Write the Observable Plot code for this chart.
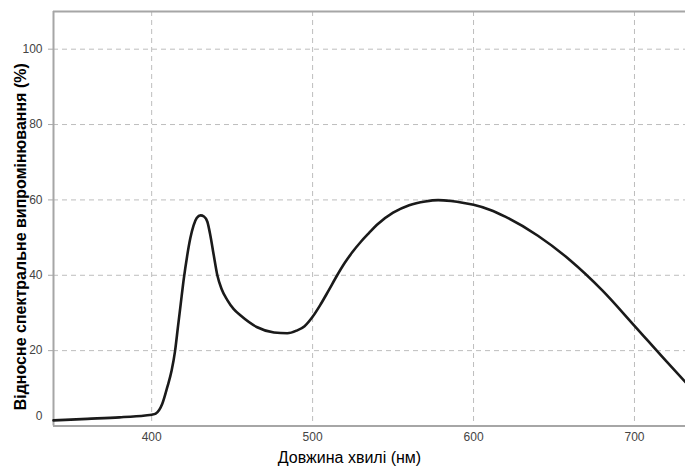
<!DOCTYPE html>
<html>
<head>
<meta charset="utf-8">
<script src="https://cdn.jsdelivr.net/npm/d3@7"></script>
<script src="https://cdn.jsdelivr.net/npm/@observablehq/plot@0.6"></script>
<style>
  html, body { margin: 0; padding: 0; background: #fff; }
  #chart { width: 685px; height: 470px; overflow: hidden; }
</style>
</head>
<body>
<div id="chart"></div>
<script>
const wavelength = [339, 360, 380, 396, 400, 402.5, 406.6, 409.7, 412.4, 414.5, 416.3, 418, 420, 422, 424, 426, 428, 430.4, 432.5, 434.6, 436.5, 438.5, 440.8, 443.5, 447, 451, 455.3, 465.6, 476, 484.3, 490, 495, 500, 505, 510, 515, 520, 525, 530, 535, 540, 550, 560, 570, 578, 586, 594, 600, 610, 620, 640, 660, 680, 700, 719.3, 732];
const intensity  = [1.5, 1.9, 2.3, 2.8, 3.0, 3.3, 5.9, 10.3, 14.7, 19.8, 26.2, 32.2, 39.2, 45.0, 49.8, 53.2, 55.2, 55.9, 55.6, 54.2, 50.5, 45.5, 40.0, 36.3, 33.4, 31.0, 29.3, 26.2, 24.8, 24.6, 25.3, 26.5, 29.0, 32.3, 36.0, 39.8, 43.3, 46.3, 48.9, 51.2, 53.4, 56.6, 58.6, 59.6, 59.95, 59.7, 59.2, 58.7, 57.4, 55.5, 50.5, 44, 36, 26.6, 17.4, 11.5];
const xTicks = [400, 500, 600, 700];
const yTicks = [20, 40, 60, 80, 100];
const xTitle = "Довжина хвилі (нм)";
const yTitle = "Відносне спектральне випромінювання (%)";

const data = wavelength.map((w, i) => ({w, v: intensity[i]}));

const chart = Plot.plot({
  width: 685,
  height: 470,
  marginLeft: 53,
  marginRight: 0,
  marginTop: 11,
  marginBottom: 44.5,
  style: {fontFamily: "'Liberation Sans', Arial, sans-serif", background: "#fff"},
  x: {domain: [339, 731.7]},
  y: {domain: [0, 110]},
  marks: [
    Plot.gridX(xTicks, {stroke: "#bdbdbd", strokeOpacity: 1, strokeDasharray: "5,4", strokeWidth: 1}),
    Plot.gridY(yTicks, {stroke: "#bdbdbd", strokeOpacity: 1, strokeDasharray: "5,4", strokeWidth: 1}),
    Plot.axisX(xTicks, {tickSize: 0, tickPadding: 6, fontSize: 12, fill: "#444", label: null}),
    Plot.axisY(yTicks, {tickSize: 5, tickPadding: 6, fontSize: 12, fill: "#444", stroke: "#aaa", label: null}),
    Plot.text(["0"], {x: 339, y: 0, text: d => d, textAnchor: "end", dx: -11, dy: -10, fontSize: 12, fill: "#444"}),
    Plot.ruleY([0], {stroke: "#a6a6a6", strokeWidth: 2}),
    Plot.ruleY([110], {stroke: "#a6a6a6", strokeWidth: 2}),
    Plot.ruleX([339], {stroke: "#a6a6a6", strokeWidth: 2}),
    Plot.line(data, {x: "w", y: "v", curve: "monotone-x", stroke: "#1a1a1a", strokeWidth: 2.6}),
    Plot.text([xTitle], {frameAnchor: "bottom", text: d => d, dx: -20, dy: 37, fontSize: 16, fill: "#000"}),
    Plot.text([yTitle], {frameAnchor: "left", text: d => d, textAnchor: "middle", rotate: -90, dx: -33, dy: 18, fontSize: 16, fontWeight: "bold", fill: "#000"})
  ]
});
document.getElementById("chart").appendChild(chart);
</script>
</body>
</html>
